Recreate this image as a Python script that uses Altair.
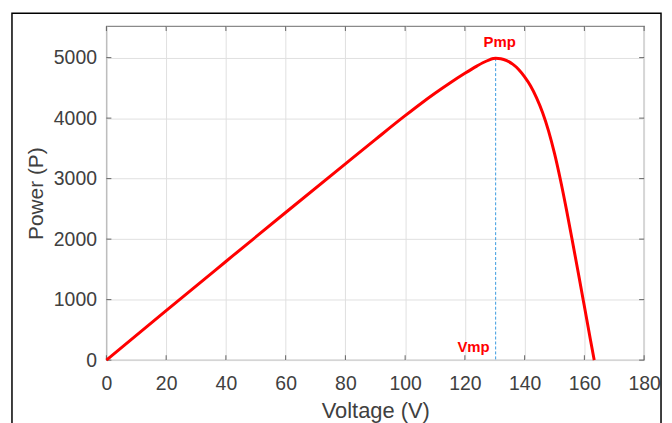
import altair as alt
import pandas as pd

# Data
voltage = [0, 20, 40, 60, 80, 90, 100, 105, 110, 115, 120, 124, 126, 128, 129.5, 130.3,
           132, 134, 136, 138, 140, 142, 144, 146, 148, 150, 152, 154, 156, 158, 160, 162, 163.3]
power = [0, 818, 1630, 2440, 3245, 3645, 4040, 4230, 4410, 4580, 4740, 4860, 4915, 4960, 4984, 4990,
         4982, 4950, 4892, 4804, 4682, 4532, 4336, 4093, 3790, 3417, 2977, 2487, 1966, 1430, 889, 346, 0]
x_ticks = [0, 20, 40, 60, 80, 100, 120, 140, 160, 180]
y_ticks = [0, 1000, 2000, 3000, 4000, 5000]
vmp = [130.3]
pmp = [4990]
zero = [0]
x_max = 180
y_max = 5520

curve = pd.DataFrame({"V": voltage, "P": power})
mpp = pd.DataFrame({"V": vmp, "P": pmp, "P0": zero})
mpp_bottom = pd.DataFrame({"V": vmp, "P": zero})
xt_bottom = pd.DataFrame({"V": x_ticks, "P": [0] * len(x_ticks)})
xt_top = pd.DataFrame({"V": x_ticks, "P": [y_max] * len(x_ticks)})
yt_left = pd.DataFrame({"V": [0] * len(y_ticks), "P": y_ticks})
yt_right = pd.DataFrame({"V": [x_max] * len(y_ticks), "P": y_ticks})

x = alt.X("V:Q", scale=alt.Scale(domain=[0, x_max], nice=False, zero=False),
          axis=alt.Axis(values=x_ticks, title="Voltage (V)", format="d", labelFlush=False))
y = alt.Y("P:Q", scale=alt.Scale(domain=[0, y_max], nice=False),
          axis=alt.Axis(values=y_ticks, title="Power (P)", format="d", labelFlush=False))

frame = alt.Chart(mpp).mark_rect(fillOpacity=0, stroke="black", strokeWidth=1.5).encode(
    x=alt.value(-95), x2=alt.value(558), y=alt.value(-13), y2=alt.value(430))

tick_style = dict(color="#555555", thickness=1, size=5, opacity=0.9)
t_bottom = alt.Chart(xt_bottom).mark_tick(orient="vertical", yOffset=-2.5, **tick_style).encode(x=x, y=y)
t_top = alt.Chart(xt_top).mark_tick(orient="vertical", yOffset=2.5, **tick_style).encode(x=x, y=y)
t_left = alt.Chart(yt_left).mark_tick(orient="horizontal", xOffset=2.5, **tick_style).encode(x=x, y=y)
t_right = alt.Chart(yt_right).mark_tick(orient="horizontal", xOffset=-2.5, **tick_style).encode(x=x, y=y)

line = alt.Chart(curve).mark_line(color="#ff0000", strokeWidth=3, interpolate="monotone").encode(x=x, y=y)

rule = alt.Chart(mpp).mark_rule(color="#3a9ae0", strokeWidth=1, strokeDash=[3, 2]).encode(
    x=x, y=y, y2="P0:Q")

pmp_text = alt.Chart(mpp).mark_text(text="Pmp", color="#ff0000", fontWeight="bold", fontSize=15,
                                    font="Liberation Sans", align="center", baseline="alphabetic",
                                    dx=4, dy=-11).encode(x=x, y=y)
vmp_text = alt.Chart(mpp_bottom).mark_text(text="Vmp", color="#ff0000", fontWeight="bold", fontSize=15,
                                           font="Liberation Sans", align="right", baseline="alphabetic",
                                           dx=-6, dy=-8).encode(x=x, y=y)

chart = alt.layer(t_bottom, t_top, t_left, t_right, rule, line, pmp_text, vmp_text, frame).properties(
    width=541, height=336,
    autosize=alt.AutoSizeParams(type="none"),
    padding={"left": 99, "top": 17, "right": 20, "bottom": 62},
    background="white",
).configure_view(
    stroke="#8a8a8a", strokeWidth=1.3
).configure_axis(
    domain=False, ticks=False, grid=True, gridColor="#e0e0e0", gridWidth=1,
    labelFont="Liberation Sans", labelFontSize=19.5, labelColor="#404040",
    titleFont="Liberation Sans", titleColor="#404040", titleFontWeight="normal",
).configure_axisX(
    labelPadding=15, titlePadding=7, titleFontSize=22
).configure_axisY(
    labelPadding=10, titlePadding=7, titleFontSize=21
)

chart.save("out.html", embed_options={"renderer": "svg", "actions": False})
